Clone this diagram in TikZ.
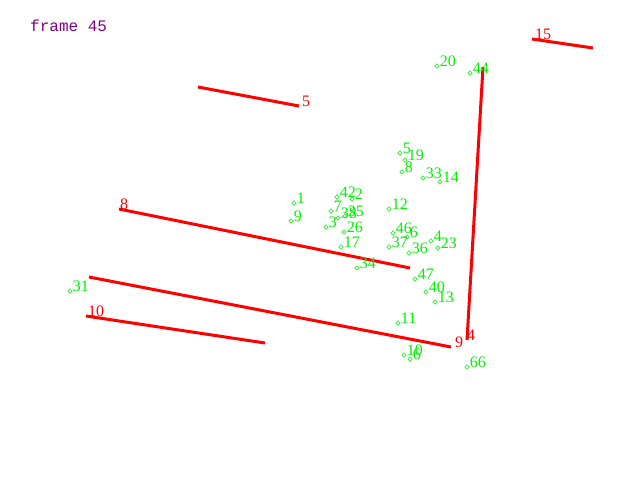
\documentclass[tikz,border=0pt]{standalone}
\usepackage{fontspec}
\setmainfont{Liberation Serif}
\setmonofont{Liberation Mono}
\usetikzlibrary{shapes.geometric}

\definecolor{ptgreen}{RGB}{0,240,0}
\definecolor{segred}{RGB}{255,0,0}
\definecolor{framepurple}{RGB}{128,0,128}

\tikzset{
  pt/.style={diamond, draw=ptgreen, line width=0.6pt, inner sep=1.2pt, minimum size=0pt},
  ptlbl/.style={text=ptgreen, inner sep=0pt, anchor=base west, font=\fontsize{16}{16}\selectfont},
  seg/.style={draw=segred, line width=3pt},
  seglbl/.style={text=segred, inner sep=0pt, anchor=base west, font=\fontsize{16}{16}\selectfont},
}

\begin{document}
\begin{tikzpicture}[x=1pt, y=-1pt]
  \useasboundingbox (0,0) rectangle (640,480);

  % Title
  \node[text=framepurple, inner sep=0pt, anchor=base west, font=\ttfamily\fontsize{16}{16}\selectfont] (title) at (30,31) {frame 45};

  % Segment end points
  \coordinate (a5) at (198,87);   \coordinate (b5) at (299,106);
  \coordinate (a8) at (119,209);  \coordinate (b8) at (410,268);
  \coordinate (a9) at (89,277);   \coordinate (b9) at (451,347);
  \coordinate (a10) at (86,316);  \coordinate (b10) at (265,343);
  \coordinate (a15) at (532,39);  \coordinate (b15) at (593,48);
  \coordinate (a4) at (467,340);  \coordinate (b4) at (483,67);

  % Segments
  \draw[seg] (a5) -- (b5);
  \draw[seg] (a8) -- (b8);
  \draw[seg] (a9) -- (b9);
  \draw[seg] (a10) -- (b10);
  \draw[seg] (a15) -- (b15);
  \draw[seg] (a4) -- (b4);

  % Segment labels
  \node[seglbl] (s5) at ([xshift=3pt]b5) {5};
  \node[seglbl] (s8) at ([xshift=1pt]a8) {8};
  \node[seglbl] (s9) at ([xshift=4pt]b9) {9};
  \node[seglbl] (s10) at ([xshift=2pt]a10) {10};
  \node[seglbl] (s15) at ([xshift=3pt]a15) {15};
  \node[seglbl] (s4) at ([xshift=0pt]a4) {4};

  % Points
  \node[pt, label={[ptlbl]0:20}] (p20) at (437,66) {};
  \node[pt, label={[ptlbl]0:44}] (p44) at (470,73) {};
  \node[pt, label={[ptlbl]0:5}] (p5) at (400,153) {};
  \node[pt, label={[ptlbl]0:19}] (p19) at (405,160) {};
  \node[pt, label={[ptlbl]0:8}] (p8) at (402,172) {};
  \node[pt, label={[ptlbl]0:33}] (p33) at (423,178) {};
  \node[pt, label={[ptlbl]0:14}] (p14) at (440,182) {};
  \node[pt, label={[ptlbl]0:42}] (p42) at (337,197) {};
  \node[pt, label={[ptlbl]0:2}] (p2) at (352,199) {};
  \node[pt, label={[ptlbl]0:1}] (p1) at (294,203) {};
  \node[pt, label={[ptlbl]0:7}] (p7) at (331,211) {};
  \node[pt, label={[ptlbl]0:12}] (p12) at (389,209) {};
  \node[pt, label={[ptlbl]0:38}] (p38) at (338,218) {};
  \node[pt, label={[ptlbl]0:35}] (p35) at (345,216) {};
  \node[pt, label={[ptlbl]0:9}] (p9) at (291,221) {};
  \node[pt, label={[ptlbl]0:3}] (p3) at (326,227) {};
  \node[pt, label={[ptlbl]0:26}] (p26) at (344,232) {};
  \node[pt, label={[ptlbl]0:46}] (p46) at (393,233) {};
  \node[pt, label={[ptlbl]0:6}] (p6) at (407,237) {};
  \node[pt, label={[ptlbl]0:4}] (p4) at (431,241) {};
  \node[pt, label={[ptlbl]0:37}] (p37) at (389,247) {};
  \node[pt, label={[ptlbl]0:17}] (p17) at (341,247) {};
  \node[pt, label={[ptlbl]0:36}] (p36) at (409,253) {};
  \node[pt, label={[ptlbl]0:23}] (p23) at (438,248) {};
  \node[pt, label={[ptlbl]0:34}] (p34) at (357,268) {};
  \node[pt, label={[ptlbl]0:47}] (p47) at (415,279) {};
  \node[pt, label={[ptlbl]0:31}] (p31) at (70,291) {};
  \node[pt, label={[ptlbl]0:40}] (p40) at (426,292) {};
  \node[pt, label={[ptlbl]0:13}] (p13) at (435,302) {};
  \node[pt, label={[ptlbl]0:11}] (p11) at (398,323) {};
  \node[pt, label={[ptlbl]0:10}] (p10) at (404,355) {};
  \node[pt, label={[ptlbl]0:6}] (p6b) at (410,359) {};
  \node[pt, label={[ptlbl]0:66}] (p66) at (467,367) {};
\end{tikzpicture}
\end{document}
